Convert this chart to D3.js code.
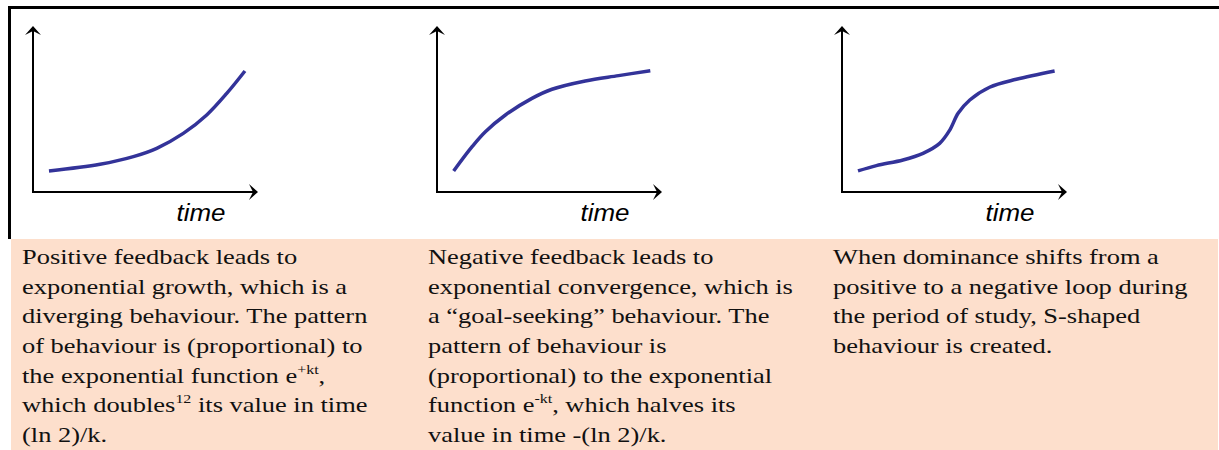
<!DOCTYPE html>
<meta charset="utf-8">
<style>
body { margin: 0; background: #fff; }
.frame { stroke: #000; stroke-width: 3; }
.axis-line { stroke: #000; stroke-width: 2; }
.curve { fill: none; stroke: #333399; stroke-width: 3.5; }
.caption { font-family: "Liberation Serif", "Times New Roman", serif; font-size: 21.5px; fill: #111; }
.time { font-family: "Liberation Sans", Arial, sans-serif; font-style: italic; font-size: 24px; fill: #000; }
</style>
<svg width="1219" height="450"></svg>
<script src="https://d3js.org/d3.v7.min.js"></script>
<script>

// curve points: [time, level], both on a 0-100 scale
var growth = [[7.1, 12.7], [29.8, 16.7], [44.6, 21.3], [55, 26.3], [66.8, 35.3], [77.2, 46.4], [86.1, 59.4], [94.2, 72.9]];
var goalSeeking = [[7.4, 12.7], [15.6, 27.3], [21.5, 36.3], [30.4, 46.4], [42.2, 56.4], [51.1, 61.9], [65.9, 66.9], [80.7, 70.1], [94.8, 73.1]];
var sShaped = [[7.1, 12.7], [15.3, 15.9], [27.1, 19.3], [36, 23.3], [43.4, 29.3], [47.9, 37.3], [51.6, 47.4], [56.8, 55.4], [65.6, 63.1], [77.5, 67.9], [94.5, 72.9]];

var axisTitle = "time";

// ^{...} marks superscript
var captionPositive = [
  "Positive feedback leads to",
  "exponential growth, which is a",
  "diverging behaviour. The pattern",
  "of behaviour is (proportional) to",
  "the exponential function e^{+kt},",
  "which doubles^{12} its value in time",
  "(ln 2)/k."
];
var captionNegative = [
  "Negative feedback leads to",
  "exponential convergence, which is",
  "a \u201cgoal-seeking\u201d behaviour. The",
  "pattern of behaviour is",
  "(proportional) to the exponential",
  "function e^{-kt}, which halves its",
  "value in time -(ln 2)/k."
];
var captionS = [
  "When dominance shifts from a",
  "positive to a negative loop during",
  "the period of study, S-shaped",
  "behaviour is created."
];

var panels = [
  {curve: growth, caption: captionPositive},
  {curve: goalSeeking, caption: captionNegative},
  {curve: sShaped, caption: captionS}
];

var svg = d3.select("svg");

var originY = 192, axisLen = 225, axisHeight = 166;
var panelX = [33, 437, 842];
var textX = [22, 428, 833];
var stretch = 1.23; // the source text is set wide

// peach caption band
svg.append("rect")
    .attr("x", 11).attr("y", 239)
    .attr("width", 1207).attr("height", 211)
    .attr("fill", "#fddfcc");

// frame lines (top and left)
svg.append("line").attr("class", "frame")
    .attr("x1", 8).attr("x2", 1219).attr("y1", 7.5).attr("y2", 7.5);
svg.append("line").attr("class", "frame")
    .attr("x1", 9.5).attr("x2", 9.5).attr("y1", 6).attr("y2", 239);

var x = d3.scaleLinear().domain([0, 100]).range([0, axisLen]);
var y = d3.scaleLinear().domain([0, 100]).range([0, -axisHeight]);

var line = d3.line()
    .x(function(d) { return x(d[0]); })
    .y(function(d) { return y(d[1]); })
    .curve(d3.curveCatmullRom.alpha(0.5));

panels.forEach(function(p, i) {
  var g = svg.append("g")
      .attr("transform", "translate(" + panelX[i] + "," + originY + ")");

  // axes with arrow heads
  g.append("line").attr("class", "axis-line")
      .attr("x1", 0).attr("x2", axisLen - 4).attr("y1", 0).attr("y2", 0);
  g.append("line").attr("class", "axis-line")
      .attr("x1", 0).attr("x2", 0).attr("y1", 1).attr("y2", -axisHeight + 4);

  g.append("path")
      .attr("d", "M" + axisLen + ",0L" + (axisLen - 9) + ",-8L" + (axisLen - 5) + ",0L" + (axisLen - 9) + ",8Z")
      .attr("fill", "#000");
  g.append("path")
      .attr("d", "M0," + (-axisHeight) + "L-8," + (-axisHeight + 9) + "L0," + (-axisHeight + 5) + "L8," + (-axisHeight + 9) + "Z")
      .attr("fill", "#000");

  g.append("path")
      .datum(p.curve)
      .attr("class", "curve")
      .attr("d", line);

  g.append("text")
      .attr("class", "time")
      .attr("transform", "translate(168,29) scale(1.08,1)")
      .attr("text-anchor", "middle")
      .text(axisTitle);

  // caption
  var t = svg.append("text")
      .attr("class", "caption")
      .attr("transform", "translate(" + textX[i] + ",0) scale(" + stretch + ",1)");

  p.caption.forEach(function(str, k) {
    var parts = str.split(/(\^\{[^}]*\})/).filter(function(s) { return s.length; });
    parts.forEach(function(part, j) {
      var sup = part.charAt(0) === "^";
      var ts = t.append("tspan").text(sup ? part.slice(2, -1) : part);
      if (j === 0) {
        ts.attr("x", 0).attr("y", 264 + k * 29.7);
      } else {
        ts.attr("y", 264 + k * 29.7 - (sup ? 9 : 0));
      }
      if (sup) ts.style("font-size", "13px");
    });
  });
});

</script>
